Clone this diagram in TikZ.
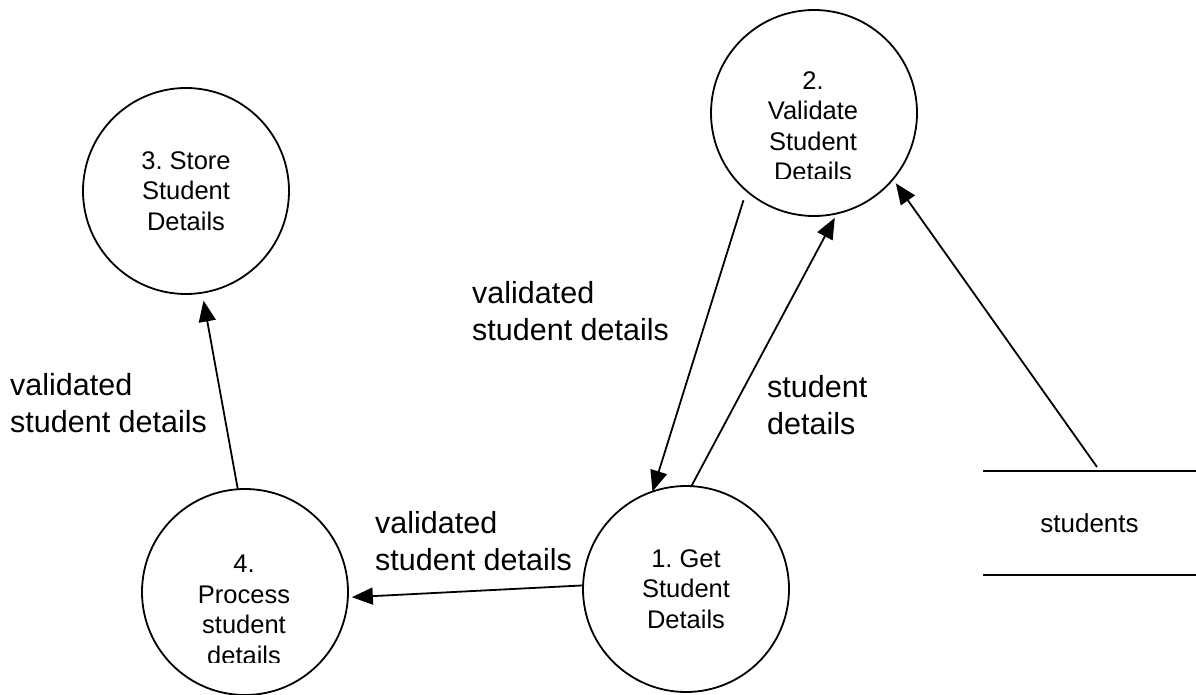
\documentclass[tikz,border=0pt]{standalone}
\usepackage{fontspec}
\setmainfont{Liberation Sans}
\usetikzlibrary{arrows.meta}
\frenchspacing
\newcommand\proctext{\fontsize{25.5}{30.5}\selectfont}
\newcommand\flowtext{\fontsize{30.5}{37}\selectfont}
\newcommand\storetext{\fontsize{26}{30}\selectfont}
\tikzset{
	process/.style={circle, draw, line width=1.8pt, minimum size=206pt,
		inner sep=0pt, outer sep=0pt, font=\proctext, align=center},
	proclabel/.style={font=\proctext, align=center, inner sep=0pt},
	flow/.style={-{Triangle[length=21pt,width=17pt]}, line width=1.8pt},
	flowlabel/.style={font=\flowtext, align=left, anchor=west, inner sep=0pt},
	store/.style={minimum width=213pt, minimum height=104pt, inner sep=0pt,
		font=\storetext}
}
\begin{document}
\begin{tikzpicture}[x=1pt, y=-1pt]
\useasboundingbox (0,0) rectangle (1196,695);

% processes
\node[process] (c1) at (686,589) {1. Get\\Student\\Details};
\node[process] (c2) at (814,113) {};
\node[process] (c3) at (186,191) {3. Store\\Student\\Details};
\node[process] (c4) at (245,592) {};

% the text of 2 and 4 is cut at the bottom
\begin{scope}
	\clip (700,0) rectangle (930,178.5);
	\node[proclabel] (t2) at (813,126) {2.\\Validate\\Student\\Details};
\end{scope}
\begin{scope}
	\clip (130,480) rectangle (360,662);
	\node[proclabel] (t4) at (244,610) {4.\\Process\\student\\details};
\end{scope}

% data store
\node[store] (st) at (1089.5,523) {students};
\draw[line width=1.8pt] (st.north west) -- (st.north east)
	(st.south west) -- (st.south east);
\coordinate (sttop) at (1097,467);

% flows
\foreach \a/\b/\s/\e in {c4.94/c3.-81/0pt/8pt, c1.178/c4.-3/0pt/4pt,
			c2.229/c1.109/10pt/0pt, c1.87/c2.-77/0pt/5pt,
			sttop/c2.-40/0pt/5pt}
{
	\draw[flow, shorten <=\s, shorten >=\e] (\a) -- (\b);
};

\node[flowlabel] (l21) at (472,311) {validated\\student details};
\node[flowlabel] (l12) at (767,405) {student\\details};
\node[flowlabel] (l43) at (10,403) {validated\\student details};
\node[flowlabel] (l14) at (375,541) {validated\\student details};
\end{tikzpicture}
\end{document}
